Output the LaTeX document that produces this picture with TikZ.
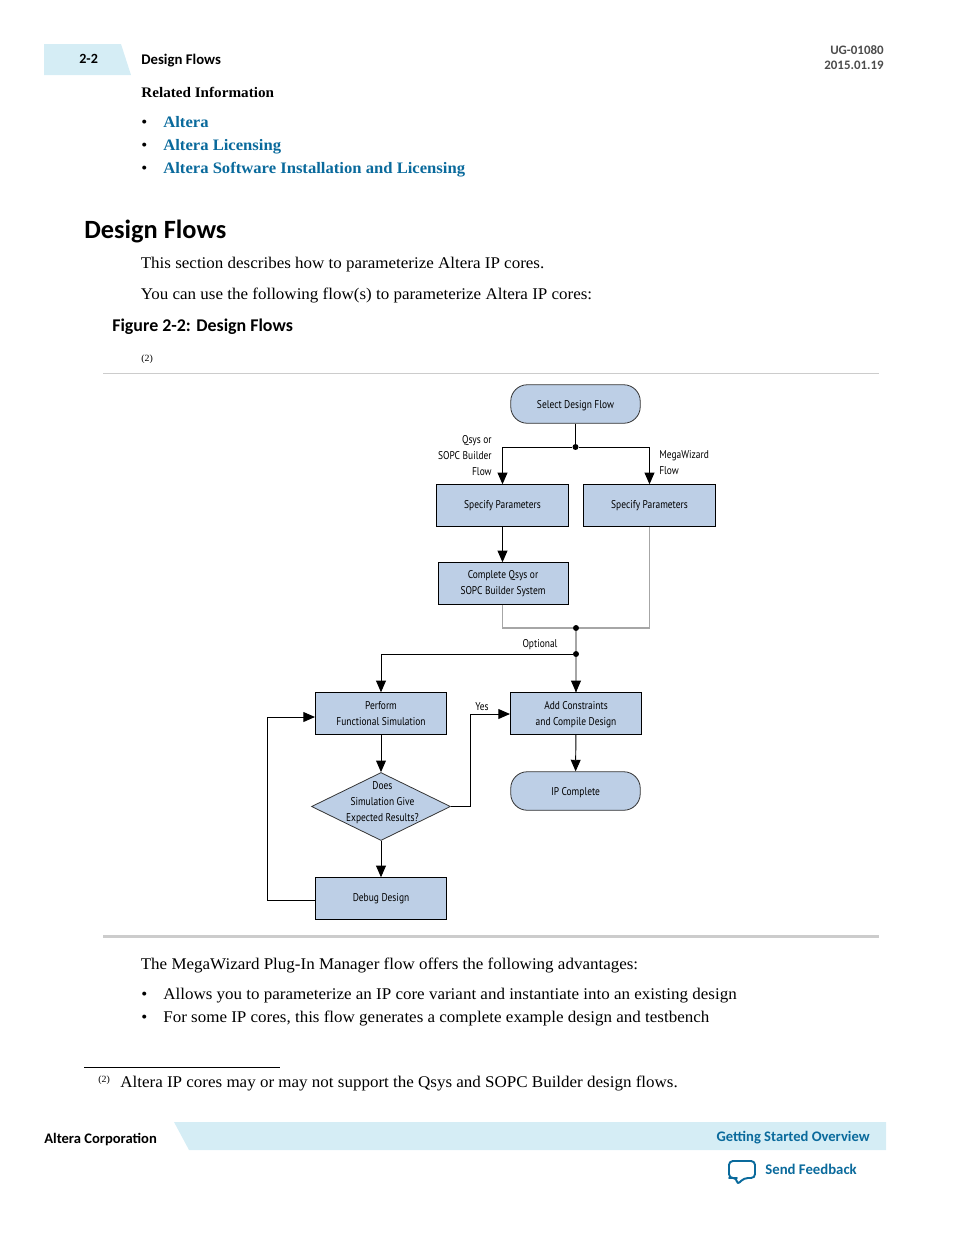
\documentclass[tikz,border=0pt]{standalone}
\usepackage{fontspec}
\setmainfont[FakeStretch=1.04]{Liberation Serif}
\newfontfamily\hdfont{Carlito}
\newfontfamily\boxfont[FakeStretch=0.84]{PT Sans}
\usetikzlibrary{arrows, arrows.meta, shapes.geometric}

\definecolor{boxblue}{HTML}{BDCFE6}
\definecolor{tabblue}{HTML}{D5EDF5}
\definecolor{linkblue}{HTML}{0A6A9C}
\definecolor{flowgray}{HTML}{A6A6A6}

\tikzset{
  body/.style={anchor=base west,inner sep=0pt,font=\fontsize{9.3}{10}\selectfont},
  bold/.style={body,font=\fontsize{8.3}{10}\selectfont\bfseries},
  link/.style={bold,text=linkblue,font=\fontsize{9.1}{10}\selectfont\bfseries},
  side/.style={anchor=base west,inner sep=0pt,font=\hdfont\fontsize{8.4}{10}\selectfont\bfseries},
  meta/.style={anchor=base east,inner sep=0pt,text=black!70,font=\hdfont\fontsize{7.35}{10}\selectfont\bfseries},
  small/.style={anchor=base west,inner sep=0pt,font=\fontsize{5.4}{6}\selectfont},
  boxtext/.style={font=\boxfont\fontsize{6.4}{9}\selectfont,align=center,inner sep=0pt},
  flowbox/.style={draw=black,line width=0.55pt,fill=boxblue,minimum width=2.635cm,minimum height=0.83cm,boxtext},
  pill/.style={draw=black!80,line width=0.45pt,fill=boxblue,rounded corners=0.33cm,minimum width=2.59cm,minimum height=0.77cm,boxtext,text depth=0pt},
  decision/.style={diamond,draw=black!80,line width=0.45pt,fill=boxblue,minimum width=2.78cm,minimum height=1.36cm,inner sep=0pt},
  lbl/.style={boxtext},
  arrow/.style={-{Triangle[length=6.6pt,width=5.6pt]},line width=0.55pt,black},
  plain/.style={line width=0.55pt,black},
  grayline/.style={line width=0.7pt,flowgray},
  dot/.style={circle,fill=black,inner sep=0pt,minimum size=3.4pt}
}

\begin{document}
\begin{tikzpicture}[x=0.02cm,y=-0.02cm]
\useasboundingbox (0,0) rectangle (954,1235);

%header
\fill[tabblue] (44,44) -- (121,44) -- (131,75) -- (44,75) -- cycle;
\node[side,font=\hdfont\fontsize{8}{10}\selectfont\bfseries] (pagenum) at (79,63) {2-2};
\node[side] (sidetitle) at (141,64) {Design Flows};
\node[meta] (docid) at (884,54) {UG-01080};
\node[meta] (docdate) at (884,69) {2015.01.19};

\node[bold] (related) at (141,97) {Related Information};
\node[body] (bull1) at (141,127) {\textbullet};
\node[body] (bull2) at (141,150) {\textbullet};
\node[body] (bull3) at (141,173) {\textbullet};
\node[link] (link1) at (163,127) {Altera};
\node[link] (link2) at (163,150) {Altera Licensing};
\node[link] (link3) at (163,173) {Altera Software Installation and Licensing};

\node[anchor=base west,inner sep=0pt,font=\hdfont\fontsize{15}{18}\selectfont\bfseries] (heading) at (84,238) {Design Flows};
\node[body] (para1) at (140.5,268) {This section describes how to parameterize Altera IP cores.};
\node[body] (para2) at (140.5,299) {You can use the following flow(s) to parameterize Altera IP cores:};
\node[anchor=base west,inner sep=0pt,font=\hdfont\fontsize{10.2}{12}\selectfont\bfseries] (figcap) at (112,331) {Figure 2-2: Design Flows};
\node[small] (figmark) at (141,361) {(2)};
\draw[black!20,line width=0.5pt] (103,373.5) -- (879,373.5);

%flow boxes
\node[pill] (select) at (575.5,404) {Select Design Flow};
\node[flowbox] (specleft) at (502.5,505.5) {Specify Parameters};
\node[flowbox] (specright) at (649.5,505.5) {Specify Parameters};
\node[flowbox,minimum width=2.6cm] (complete) at (503,583.5) {Complete Qsys or\\SOPC Builder System};
\node[flowbox] (perform) at (381,713.5) {Perform\\Functional Simulation};
\node[flowbox,text depth=0pt] (addcons) at (576,713.5) {Add Constraints\\and Compile Design};
\node[pill] (ipdone) at (575.5,791) {IP Complete};
\node[decision,label={[boxtext,yshift=2.2pt,xshift=0.8pt]center:{Does\\Simulation Give\\Expected Results?}}] (sim) at (381,806.5) {};
\node[flowbox] (debug) at (381,898.5) {Debug Design};

%junctions
\node[dot] (split) at (575.5,447) {};
\node[dot] (merge) at (576,628) {};
\node[dot] (opt) at (576,654) {};
\coordinate (loopin) at (315,717);
\coordinate (loopout) at (315,900.5);
\coordinate (yesin) at (510,714);

%connectors
\draw[plain] (select) -- (split);
\draw[arrow] (split) -| (specleft);
\draw[arrow] (split) -| (specright);
\draw[arrow] (specleft) -- (specleft |- complete.north);
\draw[grayline] (complete.south -| specleft) |- (merge);
\draw[grayline] (specright) |- (merge);
\draw[grayline] (merge) -- (opt);
\draw[grayline] (opt) -- (addcons);
\draw[arrow,shorten <=14pt] (opt) -- (addcons);
\draw[arrow] (opt) -| (perform);
\draw[arrow] (perform) -- (sim);
\draw[arrow] (sim) -- (debug);
\draw[arrow] (loopout) -- ++(-48,0) |- (loopin);
\draw[arrow] (sim.east) -- ++(20,0) |- (yesin);
\draw[arrow] (addcons) -- (ipdone);

%flow labels
\node[lbl,align=right,anchor=north east] (qsyslbl) at (492,435.5) {Qsys or\\SOPC Builder\\Flow};
\node[lbl,align=left,anchor=north west] (megalbl) at (659,450.5) {MegaWizard\\Flow};
\node[lbl] (optlbl) at (540,645) {Optional};
\node[lbl] (yeslbl) at (482,707) {Yes};

\draw[black!20,line width=1.7pt] (103,936.5) -- (879,936.5);

%text below the figure
\node[body] (para3) at (140.5,969) {The MegaWizard Plug-In Manager flow offers the following advantages:};
\node[body] (bull4) at (141,999) {\textbullet};
\node[body] (bull5) at (141,1022) {\textbullet};
\node[body] (adv1) at (163,999) {Allows you to parameterize an IP core variant and instantiate into an existing design};
\node[body] (adv2) at (163,1022) {For some IP cores, this flow generates a complete example design and testbench};

\draw[black,line width=0.6pt] (84,1067.5) -- (280,1067.5);
\node[small] (footmark) at (98,1082) {(2)};
\node[body] (footnote) at (120,1087) {Altera IP cores may or may not support the Qsys and SOPC Builder design flows.};

%footer
\fill[tabblue] (174,1122) -- (886,1122) -- (886,1150) -- (189,1150) -- cycle;
\node[side,font=\hdfont\fontsize{8.3}{10}\selectfont\bfseries] (corp) at (44,1143) {Altera Corporation};
\node[side,anchor=base east,text=linkblue,font=\hdfont\fontsize{8.3}{10}\selectfont\bfseries] (overview) at (870,1141) {Getting Started Overview};
\node[side,text=linkblue] (feedback) at (765,1174) {Send Feedback};
\draw[linkblue,line width=1.1pt,rounded corners=2.2pt,line join=round] (733,1178) -- (729,1178) -- (729,1161) -- (755,1161) -- (755,1178) -- (744,1178) -- (737,1185) -- (737,1178) -- cycle;

\end{tikzpicture}
\end{document}
